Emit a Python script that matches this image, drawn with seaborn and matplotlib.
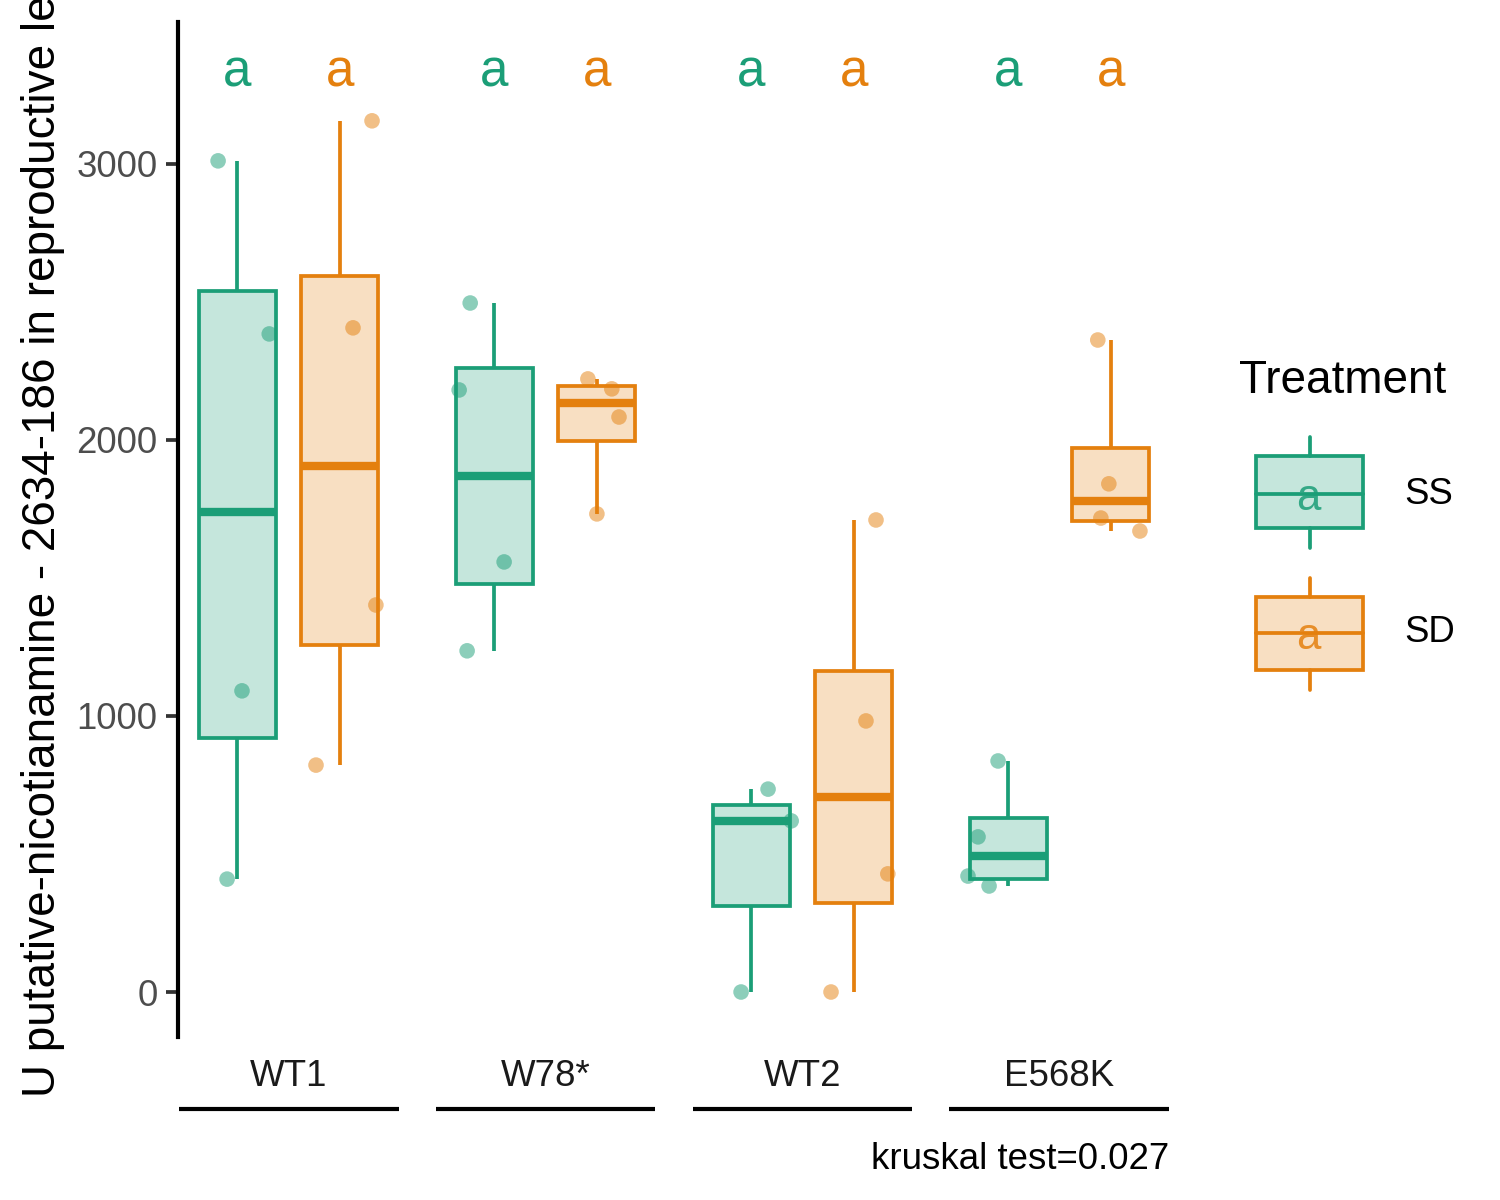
import matplotlib
matplotlib.use("Agg")
import matplotlib.pyplot as plt
import matplotlib.transforms as mtransforms
from matplotlib.patches import Rectangle
from matplotlib.colors import to_rgba
import seaborn as sns
import pandas as pd
import numpy as np

# ---- data ----
genotypes = ["WT1", "W78*", "WT2", "E568K"]
treatments = ["SS", "SD"]
colors = {"SS": "#1B9E77", "SD": "#E4800E"}

ss_values = {
    "WT1": [3011, 2384, 1091, 409],
    "W78*": [2496, 2181, 1558, 1236],
    "WT2": [735, 620, 0],
    "E568K": [837, 562, 420, 384],
}
sd_values = {
    "WT1": [3156, 2406, 1402, 822],
    "W78*": [2221, 2185, 2083, 1732],
    "WT2": [1710, 982, 428, 0],
    "E568K": [2362, 1841, 1717, 1670],
}
# horizontal jitter of each point (category units), as seen in the picture
ss_jitter = {
    "WT1": [-0.074, 0.125, 0.019, -0.039],
    "W78*": [-0.093, -0.136, 0.039, -0.105],
    "WT2": [0.066, 0.156, -0.039],
    "E568K": [-0.039, -0.117, -0.156, -0.074],
}
sd_jitter = {
    "WT1": [0.125, 0.051, 0.140, -0.093],
    "W78*": [-0.035, 0.058, 0.086, 0.0],
    "WT2": [0.086, 0.047, 0.132, -0.089],
    "E568K": [-0.051, -0.008, -0.039, 0.113],
}
letters_ss = ["a", "a", "a", "a"]
letters_sd = ["a", "a", "a", "a"]
ylabel = "U putative-nicotianamine - 2634-186 in reproductive leaves"
caption = "kruskal test=0.027"

rows = []
for trt, vals, jit in [("SS", ss_values, ss_jitter), ("SD", sd_values, sd_jitter)]:
    for g in genotypes:
        for v, j in zip(vals[g], jit[g]):
            rows.append({"genotype": g, "Treatment": trt, "value": v, "jitter": j})
df = pd.DataFrame(rows)
dodge_off = {"SS": -0.2, "SD": 0.2}
df["xpos"] = df["genotype"].map({g: i for i, g in enumerate(genotypes)}) \
    + df["Treatment"].map(dodge_off) + df["jitter"]

# ---- figure ----
sns.set_theme(style="white")
plt.rcParams["font.family"] = ["Liberation Sans", "DejaVu Sans"]

fig = plt.figure(figsize=(5, 4), dpi=300)
ax = fig.add_axes([178 / 1500, 1 - 1037 / 1200, (1170 - 178) / 1500, (1037 - 22) / 1200])

sns.scatterplot(data=df, x="xpos", y="value", hue="Treatment", hue_order=treatments,
                palette=colors, alpha=0.5, s=14, linewidth=0, legend=False,
                ax=ax, zorder=1)

sns.boxplot(data=df, x="genotype", y="value", hue="Treatment", order=genotypes,
            hue_order=treatments, palette=colors, saturation=1, fill=True,
            width=0.8, gap=0.25, showfliers=False, showcaps=False, linewidth=0.9,
            medianprops={"linewidth": 2.0}, legend=False, ax=ax)

# ggplot look: translucent fill, outline/whiskers/median in the hue colour
for p in ax.patches:
    fc = p.get_facecolor()
    p.set_edgecolor(fc[:3])
    p.set_facecolor(to_rgba(fc[:3], 0.25))
    p.set_zorder(2)
for ln in ax.lines:
    xm = np.mean(ln.get_xdata())
    trt = "SS" if xm < round(xm) else "SD"
    ln.set_color(colors[trt])
    ln.set_zorder(3)

ax.set_xlim(-0.43, 3.43)
ax.set_ylim(-163, 3514)
ax.set_yticks([0, 1000, 2000, 3000])
ax.set_xlabel("")
ax.set_ylabel("")

ax.tick_params(axis="y", labelsize=8.8, labelcolor="#4D4D4D", color="#333333",
               length=2.9, width=0.9, pad=2, left=True)
ax.tick_params(axis="x", labelsize=8.8, labelcolor="#1A1A1A", length=0, pad=5.3)
for s in ["top", "right", "bottom"]:
    ax.spines[s].set_visible(False)
ax.spines["left"].set_linewidth(1.0)
ax.spines["left"].set_color("black")

# significance letters
for i, g in enumerate(genotypes):
    ax.text(i - 0.2, 3280, letters_ss[i], ha="center", va="baseline",
            fontsize=12.3, color=colors["SS"])
    ax.text(i + 0.2, 3280, letters_sd[i], ha="center", va="baseline",
            fontsize=12.3, color=colors["SD"])

# strip lines under the group labels
trans = mtransforms.blended_transform_factory(ax.transData, ax.transAxes)
for i in range(len(genotypes)):
    ax.plot([i - 0.428, i + 0.428], [-0.0709, -0.0709], color="black", lw=1.0,
            transform=trans, clip_on=False, solid_capstyle="butt")

fig.text(43 / 1500, 1 - 1097 / 1200, ylabel, rotation=90, ha="center", va="bottom",
         fontsize=11, color="black")
fig.text(1169 / 1500, 1 - 1169 / 1200, caption, ha="right", va="baseline",
         fontsize=8.8, color="black")

# ---- legend (drawn in a pixel-space axes) ----
lax = fig.add_axes([1200 / 1500, 1 - 720 / 1200, 300 / 1500, 380 / 1200])
lax.set_xlim(1200, 1500)
lax.set_ylim(720, 340)
lax.axis("off")
lax.text(1239, 393, "Treatment", ha="left", va="baseline", fontsize=11, color="black")
keys = [("SS", 437, 456, 528, 548, 494), ("SD", 578, 597, 670, 690, 633)]
for trt, wt, bt, bb, wb, med in keys:
    c = colors[trt]
    lax.plot([1310, 1310], [wt, bt], color=c, lw=0.9, zorder=1)
    lax.plot([1310, 1310], [bb, wb], color=c, lw=0.9, zorder=1)
    lax.add_patch(Rectangle((1256, bt), 107, bb - bt, facecolor=to_rgba(c, 0.25),
                            edgecolor=c, lw=0.9, zorder=2))
    lax.plot([1256, 1363], [med, med], color=c, lw=0.9, zorder=3)
    lax.text(1308, med + 16, "a", ha="center", va="baseline", fontsize=10.5,
             color=c, alpha=0.85, zorder=4)
    lax.text(1404, med, trt, ha="left", va="center", fontsize=8.8, color="black")

fig.savefig("out.png", dpi=300)
